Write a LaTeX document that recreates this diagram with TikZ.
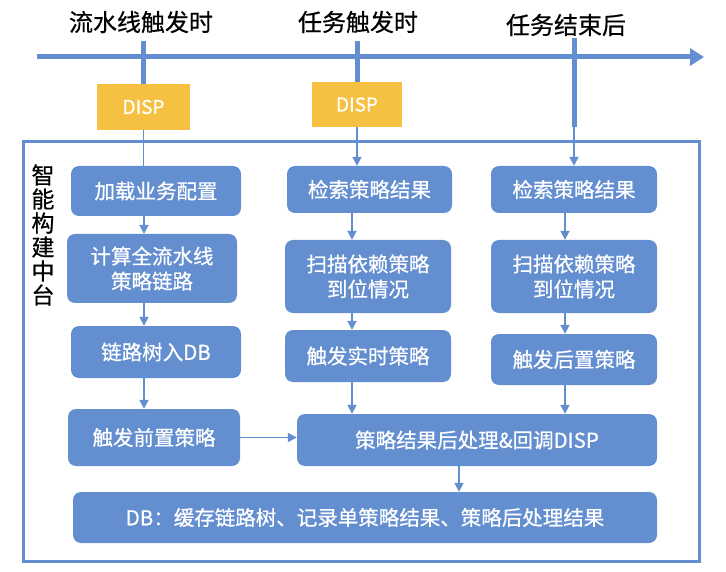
\documentclass[tikz,border=0pt]{standalone}
\usepackage{fontspec}
\setmainfont{Noto Sans CJK SC}[FakeBold=0.6]
\usetikzlibrary{arrows.meta,positioning,calc}
\definecolor{boxblue}{RGB}{99,142,207}
\definecolor{dispyellow}{RGB}{246,193,67}

\begin{document}
\begin{tikzpicture}[
    x=1pt, y=-1pt,
    blk/.style={fill=boxblue, rounded corners=8pt, text=white, align=center, inner sep=0pt, font=\fontsize{20.5}{25}\selectfont},
    disp/.style={fill=dispyellow, text=white, inner sep=0pt, font=\fontsize{19}{20}\selectfont},
    ttl/.style={font=\fontsize{24}{28}\selectfont},
    arr/.style={-{Triangle[length=9pt, width=9pt]}, draw=boxblue, line width=1.8pt},
    lnk/.style={draw=boxblue, line width=1.8pt},
    axisline/.style={draw=boxblue, line width=5pt}
]
\useasboundingbox (0,0) rectangle (726,572);

% time line
\coordinate (tl0) at (37,57);
\coordinate (tl1) at (704,57);
\draw[axisline, -{Triangle[length=14pt, width=17pt]}] (tl0) -- (tl1);

\node[ttl] (t1) at (141,22) {流水线触发时};
\node[ttl] (t2) at (358,22) {任务触发时};
\node[ttl] (t3) at (566,25) {任务结束后};

\node[disp, minimum width=93pt, minimum height=46pt] (disp1) at (143.5,107) {DISP};
\node[disp, minimum width=90pt, minimum height=45pt] (disp2) at (357,104.5) {DISP};

\coordinate (k1) at (143.5,41);
\coordinate (k2) at (357,41);
\coordinate (k3) at (574,38);
\coordinate (k3b) at (574,127);
\draw[axisline] (k1) -- (disp1.north);
\draw[axisline] (k2) -- (disp2.north);
\draw[axisline] (k3) -- (k3b);

% platform frame
\draw[draw=boxblue, line width=3pt] (23,142) rectangle (699,561);
\node[align=center, font=\fontsize{23}{24}\selectfont] (plat) at (43,235) {智\\能\\构\\建\\中\\台};

% column x positions of the connectors
\coordinate (c1) at (144,0);
\coordinate (c2) at (352,0);
\coordinate (c3) at (565,0);
\coordinate (c4) at (459,0);

\node[blk, minimum width=170pt, minimum height=50pt] (load) at (156,191) {加载业务配置};
\node[blk, minimum width=170pt, minimum height=69pt] (calc) at (152,268.5) {计算全流水线\\策略链路};
\node[blk, minimum width=170pt, minimum height=52pt] (tree) at (156,352) {链路树入DB};
\node[blk, minimum width=172pt, minimum height=57pt] (pre) at (154,437.5) {触发前置策略};

\node[blk, minimum width=165pt, minimum height=47pt] (find2) at (369.5,189.5) {检索策略结果};
\node[blk, minimum width=166pt, minimum height=73pt] (scan2) at (368,276.5) {扫描依赖策略\\到位情况};
\node[blk, minimum width=166pt, minimum height=52pt] (real) at (368,356) {触发实时策略};

\node[blk, minimum width=166pt, minimum height=47pt] (find3) at (574,189.5) {检索策略结果};
\node[blk, minimum width=166pt, minimum height=73pt] (scan3) at (574,276.5) {扫描依赖策略\\到位情况};
\node[blk, minimum width=166pt, minimum height=51pt] (post) at (574,359.5) {触发后置策略};

\node[blk, minimum width=360pt, minimum height=52pt] (proc) at (477,440) {策略结果后处理\&回调DISP};
\node[blk, minimum width=584pt, minimum height=51pt] (db) at (365,517.5) {DB：缓存链路树、记录单策略结果、策略后处理结果};

\draw[lnk] (disp1.south) -- (disp1.south |- load.north);
\draw[arr] (disp2.south) -- (disp2.south |- find2.north);
\draw[arr] (k3b) -- (find3.north);

\draw[arr] (load.south -| c1) -- (calc.north -| c1);
\draw[arr] (calc.south -| c1) -- (tree.north -| c1);
\draw[arr] (tree.south -| c1) -- (pre.north -| c1);
\draw[arr] (pre.east) -- (pre.east -| proc.west);

\draw[arr] (find2.south -| c2) -- (scan2.north -| c2);
\draw[arr] (scan2.south -| c2) -- (real.north -| c2);
\draw[arr] (real.south -| c2) -- (proc.north -| c2);

\draw[arr] (find3.south -| c3) -- (scan3.north -| c3);
\draw[arr] (scan3.south -| c3) -- (post.north -| c3);
\draw[arr] (post.south -| c3) -- (proc.north -| c3);

\draw[arr] (proc.south -| c4) -- (db.north -| c4);
\end{tikzpicture}
\end{document}
